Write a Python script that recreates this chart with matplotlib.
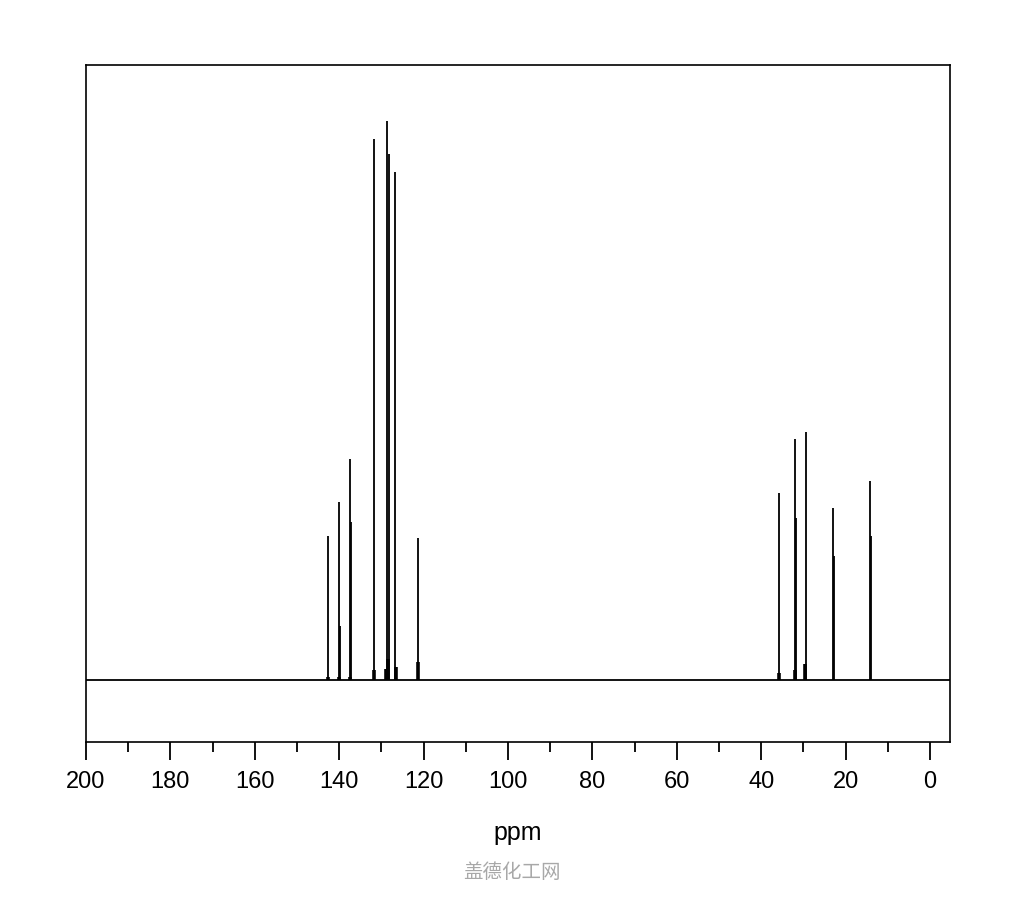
"""
13C NMR 谱图复现
"""
import numpy as np
import matplotlib.pyplot as plt
from matplotlib.ticker import MultipleLocator

# 峰位置 (ppm) 和峰高 (任意单位)
shifts = [142.6, 140.1, 139.8, 137.5, 137.2, 131.7, 128.6, 128.3, 126.7, 121.3,
          35.7, 31.95, 31.65, 29.4, 23.0, 22.7, 14.3, 14.0]
heights = [144, 178, 54, 221, 158, 541, 559, 526, 508, 142,
           187, 241, 162, 248, 172, 124, 199, 144]

# 基线附近的小峰
small_shifts = [142.6, 140.0, 137.4, 131.7, 128.8, 128.45, 126.5, 121.3, 35.7, 31.9, 29.6]
small_heights = [3, 3, 3, 10, 11, 21, 13, 18, 7, 10, 16]

xmin, xmax = 200, -4.74
ymin, ymax = -62, 615

plt.rcParams['font.family'] = ['Liberation Sans', 'DejaVu Sans']

fig = plt.figure(figsize=(10.24, 9.0), dpi=100)
ax = fig.add_axes([86 / 1024, 1 - 742 / 900, (950 - 86) / 1024, (742 - 65) / 900])

ax.axhline(0, color='black', linewidth=1.3, zorder=2)
ax.vlines(shifts, 0, heights, color='black', linewidth=1.3, zorder=3)
ax.vlines(small_shifts, 0, small_heights, color='black', linewidth=2.6, zorder=3)

ax.set_xlim(xmin, xmax)
ax.set_ylim(ymin, ymax)
ax.set_yticks([])

ax.xaxis.set_major_locator(MultipleLocator(20))
ax.xaxis.set_minor_locator(MultipleLocator(10))
ax.tick_params(axis='x', which='major', direction='out', length=13, width=1.3,
               labelsize=17, pad=8, colors='black')
ax.tick_params(axis='x', which='minor', direction='out', length=7, width=1.3)

for s in ax.spines.values():
    s.set_linewidth(1.2)
    s.set_color('black')

ax.set_xlabel('ppm', fontsize=18, labelpad=20)

fig.text(0.5, 1 - 873 / 900, '盖德化工网', ha='center', va='center', fontsize=14,
         color='#a8a8a8', family=['Noto Sans CJK SC', 'DejaVu Sans'])

fig.savefig('out.png', dpi=100, facecolor='white')
plt.close(fig)
